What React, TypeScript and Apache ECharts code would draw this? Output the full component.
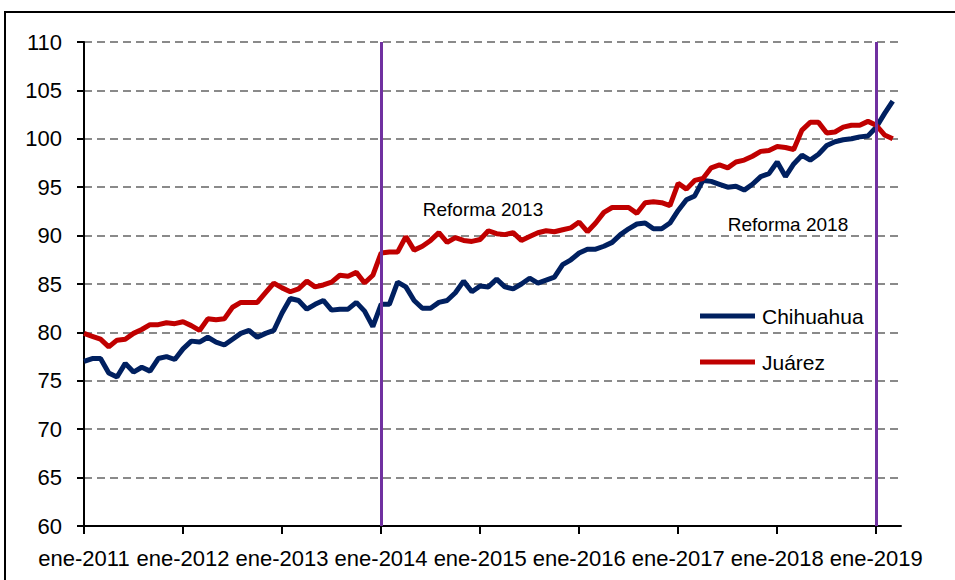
import React, { useEffect, useRef } from "react";
import * as echarts from "echarts";

const monthNames = ["ene", "feb", "mar", "abr", "may", "jun", "jul", "ago", "sep", "oct", "nov", "dic"];
const years = [2011, 2012, 2013, 2014, 2015, 2016, 2017, 2018, 2019];
const lastMonthIndex2019 = 3; // axis runs to abr-2019

const categories: string[] = [];
years.forEach((y) => {
  monthNames.forEach((m, i) => {
    if (y === 2019 && i > lastMonthIndex2019) return;
    categories.push(`${m}-${y}`);
  });
});

const chihuahua = [
  77.0, 77.3, 77.3, 75.8, 75.4, 76.8, 75.9, 76.4, 76.0, 77.3, 77.5, 77.2,
  78.3, 79.1, 79.0, 79.5, 79.0, 78.7, 79.3, 79.9, 80.2, 79.5, 79.9, 80.2,
  82.0, 83.5, 83.3, 82.4, 82.9, 83.3, 82.3, 82.4, 82.4, 83.1, 82.2, 80.6,
  82.9, 82.9, 85.2, 84.7, 83.3, 82.5, 82.5, 83.1, 83.3, 84.1, 85.3, 84.2,
  84.8, 84.7, 85.5, 84.7, 84.5, 85.0, 85.6, 85.1, 85.4, 85.7, 87.0, 87.5,
  88.2, 88.6, 88.6, 88.9, 89.3, 90.1, 90.7, 91.2, 91.3, 90.7, 90.7, 91.3,
  92.6, 93.7, 94.1, 95.7, 95.6, 95.3, 95.0, 95.1, 94.7, 95.3, 96.1, 96.4,
  97.6, 96.1, 97.4, 98.3, 97.8, 98.4, 99.3, 99.7, 99.9, 100.0, 100.2, 100.3,
  101.2, 102.6, 103.9,
];

const juarez = [
  79.9, 79.6, 79.3, 78.5, 79.2, 79.3, 79.9, 80.3, 80.8, 80.8, 81.0, 80.9,
  81.1, 80.7, 80.2, 81.4, 81.3, 81.4, 82.6, 83.1, 83.1, 83.1, 84.1, 85.1,
  84.6, 84.2, 84.5, 85.3, 84.7, 84.9, 85.2, 85.9, 85.8, 86.2, 85.1, 85.9,
  88.2, 88.3, 88.3, 89.9, 88.5, 88.9, 89.5, 90.3, 89.3, 89.8, 89.5, 89.4,
  89.6, 90.5, 90.2, 90.1, 90.3, 89.5, 89.9, 90.3, 90.5, 90.4, 90.6, 90.8,
  91.4, 90.4, 91.3, 92.4, 92.9, 92.9, 92.9, 92.3, 93.4, 93.5, 93.4, 93.1,
  95.4, 94.8, 95.7, 95.9, 97.0, 97.3, 97.0, 97.6, 97.8, 98.2, 98.7, 98.8,
  99.2, 99.1, 98.9, 100.9, 101.7, 101.7, 100.6, 100.7, 101.2, 101.4, 101.4, 101.8,
  101.4, 100.4, 100.0,
];

const reformDates = ["ene-2014", "ene-2019"];
const reformLabels = ["Reforma 2013", "Reforma 2018"];
const seriesNames = ["Chihuahua", "Juárez"];

const FONT = "Liberation Sans, Arial, sans-serif";

export default function App() {
  const ref = useRef<HTMLDivElement>(null);

  useEffect(() => {
    if (!ref.current) return;
    const chart = echarts.init(ref.current, null, { renderer: "svg" });
    chart.setOption({
      animation: false,
      backgroundColor: "#ffffff",
      textStyle: { fontFamily: FONT },
      grid: { left: 84, right: 54, top: 42, bottom: 54, containLabel: false },
      legend: {
        orient: "vertical",
        left: 695,
        top: 299,
        itemGap: 22,
        itemWidth: 55,
        itemHeight: 5,
        icon: "rect",
        data: seriesNames,
        textStyle: { fontSize: 21, color: "#000", fontFamily: FONT, lineHeight: 24, padding: [0, 0, 0, 2] },
      },
      xAxis: {
        type: "category",
        data: categories,
        boundaryGap: false,
        axisLine: { show: true, lineStyle: { color: "#000", width: 2 } },
        axisTick: {
          show: true,
          interval: (idx: number) => idx % 12 === 0,
          length: 8,
          lineStyle: { color: "#000", width: 2 },
        },
        axisLabel: {
          interval: (idx: number) => idx % 12 === 0,
          margin: 21,
          fontSize: 22,
          color: "#000",
          fontFamily: FONT,
        },
        splitLine: { show: false },
      },
      yAxis: {
        type: "value",
        min: 60,
        max: 110,
        interval: 5,
        axisLine: { show: true, lineStyle: { color: "#000", width: 2 } },
        axisTick: { show: true, length: 7, lineStyle: { color: "#000", width: 2 } },
        axisLabel: { margin: 22, fontSize: 22, color: "#000", fontFamily: FONT },
        splitLine: { show: true, lineStyle: { color: "#8a8a8a", width: 2, type: [8, 5] } },
      },
      series: [
        {
          name: seriesNames[0],
          type: "line",
          data: chihuahua,
          symbol: "none",
          lineStyle: { color: "#002060", width: 5 },
          itemStyle: { color: "#002060" },
          markLine: {
            silent: true,
            symbol: "none",
            label: { show: false },
            lineStyle: { color: "#7030A0", width: 3, type: "solid" },
            data: reformDates.map((d) => ({ xAxis: d })),
          },
          z: 3,
        },
        {
          name: seriesNames[1],
          type: "line",
          data: juarez,
          symbol: "none",
          lineStyle: { color: "#C00000", width: 5 },
          itemStyle: { color: "#C00000" },
          z: 4,
        },
      ],
      graphic: [
        {
          type: "rect",
          shape: { x: 5, y: 12, width: 1000, height: 700 },
          style: { fill: "none", stroke: "#000", lineWidth: 2 },
          silent: true,
        },
        {
          type: "text",
          x: 483,
          y: 209,
          style: {
            text: reformLabels[0],
            fontSize: 19,
            fontFamily: FONT,
            fill: "#000",
            align: "center",
            verticalAlign: "middle",
          },
        },
        {
          type: "text",
          x: 788,
          y: 224,
          style: {
            text: reformLabels[1],
            fontSize: 19,
            fontFamily: FONT,
            fill: "#000",
            align: "center",
            verticalAlign: "middle",
          },
        },
      ],
    });
    return () => chart.dispose();
  }, []);

  return (
    <div
      ref={ref}
      style={{ position: "fixed", left: 0, top: 0, width: 955, height: 580 }}
    />
  );
}
